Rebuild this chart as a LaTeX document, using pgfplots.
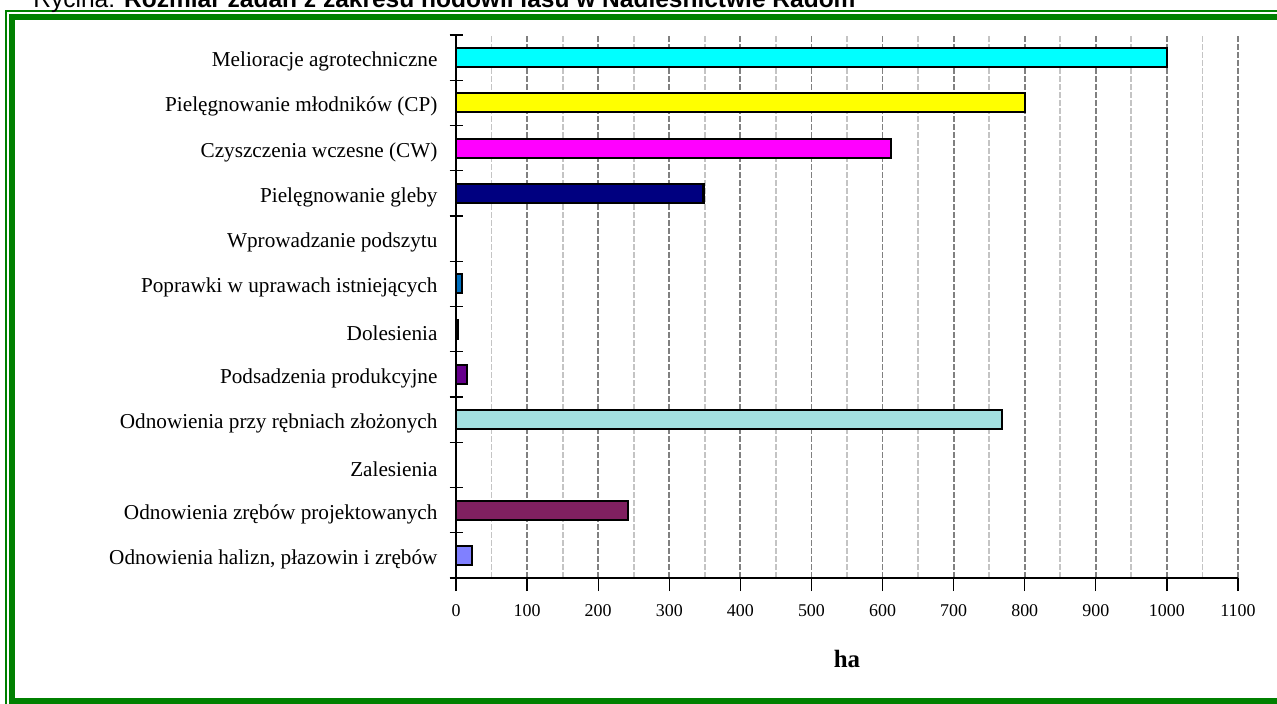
\documentclass[border=0pt]{standalone}
\usepackage{pgfplots}
\pgfplotsset{compat=1.18}
\usepackage{fontspec}
\setmainfont{Liberation Serif}
\newfontfamily\arial{Liberation Sans}

\definecolor{ramka}{RGB}{0,128,0}
\definecolor{c1}{RGB}{0,255,255}
\definecolor{c2}{RGB}{255,255,0}
\definecolor{c3}{RGB}{255,0,255}
\definecolor{c4}{RGB}{0,0,128}
\definecolor{c6}{RGB}{0,112,192}
\definecolor{c7}{RGB}{0,0,0}
\definecolor{c8}{RGB}{102,0,140}
\definecolor{c9}{RGB}{162,224,224}
\definecolor{c11}{RGB}{128,32,96}
\definecolor{c12}{RGB}{128,128,255}
\definecolor{gridmaj}{RGB}{128,128,128}
\definecolor{gridmin}{RGB}{196,196,196}

\begin{document}
\begin{tikzpicture}
\useasboundingbox (0,0) rectangle (638.5bp,352bp);
\clip (0,0) rectangle (638.5bp,352bp);

% ramka
\draw[ramka, line width=1bp] (3bp,-10bp) -- (3bp,346.5bp) -- (700bp,346.5bp);
\draw[ramka, line width=3bp] (6bp,1.5bp) rectangle (700bp,343.5bp);
\node[anchor=base west, inner sep=0pt, font=\arial\fontsize{12.3}{14}\selectfont]
  at (16.5bp,348bp) {Rycina: \textbf{Rozmiar zadań z zakresu hodowli lasu w Nadleśnictwie Radom}};

\begin{axis}[
    at={(228bp,63bp)}, anchor=south west,
    scale only axis,
    width=391bp, height=271.5bp,
    xbar, bar width=9.5bp,
    every axis plot post/.append style={bar shift=0pt},
    xmin=0, xmax=1100,
    ymin=-0.5, ymax=11.5,
    axis x line*=bottom, axis y line*=left,
    axis line style={-, black, line width=0.6bp},
    xtick={0,100,...,1100},
    minor x tick num=1,
    xmajorgrids, xminorgrids,
    major grid style={dash pattern=on 3bp off 1bp, line width=0.9bp, color=gridmaj},
    minor grid style={dash pattern=on 3bp off 1bp, line width=0.9bp, color=gridmin},
    ytick={-0.5,0.5,...,11.5},
    y tick label as interval,
    yticklabels={
      {Odnowienia halizn, płazowin i zrębów},
      Odnowienia zrębów projektowanych,
      Zalesienia,
      Odnowienia przy rębniach złożonych,
      Podsadzenia produkcyjne,
      Dolesienia,
      Poprawki w uprawach istniejących,
      Wprowadzanie podszytu,
      Pielęgnowanie gleby,
      Czyszczenia wczesne (CW),
      Pielęgnowanie młodników (CP),
      Melioracje agrotechniczne},
    tick style={black, line width=0.6bp},
    major tick length=6.5bp, minor tick length=0pt,
    xtick align=outside, ytick align=center,
    /pgf/number format/assume math mode=true,
    /pgf/number format/set thousands separator={},
    xticklabel style={font=\fontsize{9}{10}\selectfont, yshift=-3.5bp},
    yticklabel style={font=\fontsize{10.65}{12}\selectfont, xshift=-2.5bp, yshift=-2bp},
    xlabel={\textbf{ha}},
    xlabel style={font=\fontsize{12.5}{14}\selectfont, yshift=-9.5bp},
]
\addplot[fill=c12, draw=black, line width=1.1bp] coordinates {(22,0)};
\addplot[fill=c11, draw=black, line width=1.1bp] coordinates {(242,1)};
\addplot[fill=c9,  draw=black, line width=1.1bp] coordinates {(768,3)};
\addplot[fill=c8,  draw=black, line width=1.1bp] coordinates {(15,4)};
\addplot[fill=c7,  draw=black, line width=1.1bp] coordinates {(3,5)};
\addplot[fill=c6,  draw=black, line width=1.1bp] coordinates {(8,6)};
\addplot[fill=c4,  draw=black, line width=1.1bp] coordinates {(348,8)};
\addplot[fill=c3,  draw=black, line width=1.1bp] coordinates {(612,9)};
\addplot[fill=c2,  draw=black, line width=1.1bp] coordinates {(800,10)};
\addplot[fill=c1,  draw=black, line width=1.1bp] coordinates {(1000,11)};
\end{axis}
\end{tikzpicture}
\end{document}
